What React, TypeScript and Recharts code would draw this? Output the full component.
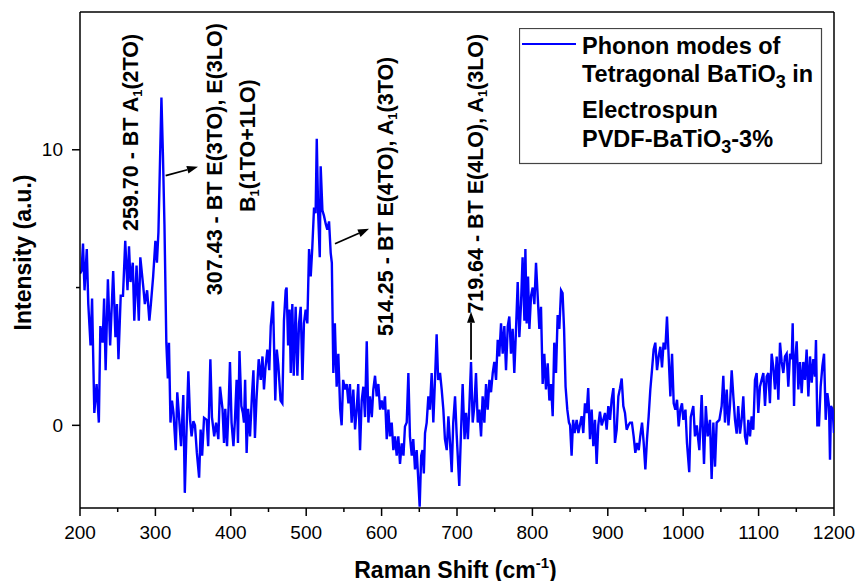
import React from 'react';
import { LineChart, Line, XAxis, YAxis, ReferenceLine, ReferenceDot, Legend } from 'recharts';

const ramanShift = [
  200, 202, 204, 206, 209, 211, 214, 216, 219, 222,
  225, 227, 230, 232, 234, 237, 240, 244, 247, 249,
  251, 254, 257, 260, 263, 265, 267, 270, 272, 275,
  278, 280, 284, 286, 289, 292, 294, 297, 300, 302,
  304, 308, 310, 312, 314.5, 316.5, 318, 320, 322, 324,
  327, 329, 331, 334, 337, 339, 341, 343.7, 346, 348,
  350.4, 352.5, 355, 358, 360, 362, 364.5, 368, 370, 372.9,
  375, 378, 380.5, 383.5, 385.7, 389, 391, 392.7, 395, 397,
  398.9, 401, 403.5, 405.5, 407.7, 409.5, 411.5, 414, 416, 417.5,
  419, 421, 423, 425.5, 428, 430, 432, 434, 437, 439.7,
  442, 444, 446, 448.5, 451, 453, 456, 459, 461, 463,
  466, 468.4, 470.5, 472.8, 474, 476, 478, 479.5, 481.6, 483.5,
  486, 488.3, 490.5, 492.7, 495, 497, 499.3, 501.5, 503.8, 506,
  508, 510.4, 512.5, 514, 516, 518, 519.2, 521.5, 523.6, 526,
  528, 530.3, 532.5, 534, 536, 538, 540.4, 542.6, 545, 547,
  549, 551.5, 553.7, 556, 558, 560.3, 562.5, 564.8, 567, 569,
  571.4, 573.6, 575.8, 578, 580.3, 582.5, 584.6, 587, 589, 591.3,
  593.5, 595.7, 598, 600, 602.3, 604.5, 606.8, 609, 611, 613.4,
  615.6, 617.8, 620, 622.2, 624.4, 626.7, 629, 631, 633.3, 635.5,
  637.6, 640, 642, 644.3, 646.5, 648.7, 650.5, 652.5, 654.3, 656,
  657.6, 659.8, 662, 664, 666.4, 668.6, 671, 673, 675, 677.5,
  679.7, 681.9, 684, 686.4, 688.6, 690.8, 693, 695, 697.4, 699.5,
  701, 703, 705, 707.5, 710, 712, 714.4, 716.4, 718.6, 720.8,
  723, 725.2, 727.5, 729.6, 731.9, 734, 736.3, 738.5, 740.7, 743,
  745.1, 747.4, 749.5, 751.8, 754, 756, 758.4, 760.6, 762.8, 765,
  767.3, 769.4, 771.6, 773.8, 776, 778.3, 780.5, 782.7, 784.9, 787,
  789.4, 790.7, 792.4, 794.2, 796, 798.2, 800.4, 802.6, 804.8, 807,
  809.2, 811.4, 813.6, 815.8, 818, 820.3, 822.5, 824.7, 826.9, 829,
  831.3, 833.5, 835.7, 838, 840, 842, 844, 846.3, 848.5, 850,
  852, 854, 856, 858.7, 861, 863, 865.3, 867.5, 869.7, 872,
  874, 876.4, 878.6, 880.8, 883, 885.2, 887.4, 889.6, 891.9, 894,
  896.3, 898.5, 900.7, 903, 905.1, 907.4, 909.5, 911.8, 914, 916.2,
  918.4, 920.6, 922.8, 925, 927.3, 929.5, 932, 934.3, 936.5, 938.7,
  941, 943, 945.4, 947.6, 949.8, 952, 954.2, 956.4, 958.6, 960.8,
  963, 965.3, 967.5, 969.7, 971.9, 974, 976.3, 978.5, 980.7, 983,
  985.2, 987.4, 989.6, 991.8, 994, 996.2, 998.4, 1000.2, 1003, 1005,
  1008, 1010, 1013.4, 1015.6, 1018, 1021.4, 1024.5, 1027.6, 1030, 1032.5,
  1035.5, 1037.7, 1040, 1042.2, 1044.4, 1048, 1051, 1053.2, 1055.4, 1057.7,
  1060, 1062, 1064.3, 1066.5, 1068.7, 1070.9, 1073, 1075.3, 1077.5, 1079.7,
  1082, 1084.2, 1086.4, 1088.6, 1090.8, 1093, 1095.2, 1097.4, 1099.6, 1101.8,
  1104, 1106.3, 1108.5, 1110.7, 1112.9, 1115, 1117.3, 1119.5, 1121.7, 1124,
  1126.2, 1128.4, 1130.6, 1132.8, 1135, 1137.2, 1139.4, 1141.7, 1143.9, 1145.2,
  1147, 1148.3, 1150.5, 1152.7, 1154.9, 1157.1, 1159.3, 1161.5, 1163.7, 1166,
  1168.2, 1170.4, 1172.6, 1174.8, 1176.1, 1177.9, 1180.1, 1182.3, 1184.6, 1186.8,
  1189, 1191.2, 1193.4, 1194.7, 1196, 1198.2, 1200,
];

const intensity = [
  5.5, 5.6, 6.6, 4.9, 6.4, 4.4, 2.9, 4.6, 0.45, 1.5,
  0.1, 3.6, 3.0, 4.6, 2.0, 5.3, 2.9, 5.6, 3.2, 4.4,
  2.4, 4.7, 4.7, 6.7, 4.9, 6.5, 5.2, 5.9, 3.8, 5.8,
  3.8, 6.1, 5.0, 4.4, 4.9, 3.8, 4.4, 5.4, 6.7, 5.9,
  7.0, 11.9, 9.8, 7.3, 3.0, 1.7, 3.0, 0.1, 0.9, 0.45,
  -0.9, 1.2, 0.45, -0.76, 1.1, -2.45, -0.46, 1.96, 0.2, -0.4,
  0.15, 0, -1.0, -1.9, -0.15, -1.1, 0.27, 0.2, -0.76, 2.4,
  0.3, -0.4, 0.1, -0.5, 1.4, 0.6, -0.64, 0.6, -0.76, 0.6,
  2.3, 0.1, -0.76, 0.2, 1.65, -0.64, 2.7, 0.7, 0.45, 0.1,
  1.65, -1.0, 0.6, -0.4, 1.05, 2.0, -0.46, 0.9, 2.4, 1.65,
  2.5, 1.3, 2.1, 2.75, 2.0, 3.6, 4.5, 0.9, 2.75, 2.2,
  0.9, 0.8, 3.8, 4.9, 5.0, 2.9, 4.2, 1.9, 4.4, 1.8,
  4.3, 1.8, 3.7, 4.3, 1.65, 3.7, 4.2, 3.7, 6.4, 5.4,
  6.4, 7.9, 7.7, 10.4, 7.6, 6.1, 9.4, 7.8, 7.6, 7.3,
  7.1, 7.4, 6.25, 5.9, 1.9, 3.7, 1.4, 2.6, 0.6, 0,
  1.65, 1.3, 1.5, 0.8, 1.5, 0.1, 1.3, -0.15, 0.6, 1.5,
  -0.9, 0.9, 1.4, 0.3, 3.05, 0.1, 1.05, 0.3, 1.3, 1.8,
  1.05, 1.5, 0.57, 0.9, 0.57, 1.05, -0.5, 0.57, -0.4, 0.1,
  -0.9, -0.4, -1.1, -0.4, -1.4, -0.65, -1.1, -0.04, 0.1, 1.9,
  -0.4, -1.1, -0.5, -1.6, -0.9, -2.0, -2.95, -1.1, -0.9, -1.75,
  -0.28, 0.1, 1.05, 0.57, 1.9, 0.1, 1.8, 3.3, 1.65, 1.9,
  1.3, 0.57, -0.5, -0.9, 0.33, -0.65, -1.7, 0.1, 1.05, -0.3,
  -1.1, -2.2, -0.5, 1.5, -0.5, 0.45, -0.5, 0.7, 2.3, 0.1,
  0.7, 1.9, 0.1, 0.57, -0.4, 1.05, 0.1, 1.5, 0.57, 1.65,
  1.2, 1.9, 2.3, 1.65, 3.1, 2.5, 3.7, 2.6, 3.6, 2.0,
  3.6, 3.95, 2.6, 3.5, 1.9, 3.5, 5.2, 3.2, 4.4, 6.1,
  3.8, 6.4, 3.7, 5.4, 3.5, 4.7, 5.0, 4.4, 5.9, 4.7,
  3.5, 4.3, 1.5, 2.6, 1.3, 2.25, 0.9, 1.5, 0.33, 3.0,
  1.9, 4.0, 3.5, 4.9, 4.8, 3.5, 1.4, 0.57, 0.1, 0.0,
  -1.1, 0.2, -0.28, 0.2, -0.28, 0.0, 0.33, -0.28, 0.8, 0.45,
  1.35, -0.5, 0.57, -0.76, 0.2, -1.4, 0.0, 0.5, 0.0, 0.2,
  0.45, -0.16, 0.7, 0.2, 0.93, 1.35, -0.64, -0.16, 1.05, 1.35,
  1.7, 0.7, 0.45, -0.16, 0.0, 0.1, 0.1, -0.4, -1.0, -0.64,
  -0.9, -0.4, 0.1, -0.64, -1.6, -0.5, 0.33, 1.3, 2.0, 2.75,
  3.0, 2.0, 2.5, 2.85, 2.1, 3.0, 2.75, 3.95, 2.5, 1.05,
  2.6, 0.8, 0.57, 0.93, -0.04, 0.57, 0.8, 0.2, 0.57, -0.64,
  -1.7, 0.3, 0.7, -0.4, 0.0, -0.9, 1.1, -1.4, 0.7, -0.4,
  0.2, -1.95, 0.1, -1.5, 0.1, 0.2, 0.7, 1.8, 0.1, 1.3,
  0.0, 0.7, 2.0, 1.05, 0.2, -0.3, 0.7, -0.3, 0.2, 1.05,
  -0.4, -0.7, 0.2, -0.4, 0.33, -0.16, 1.65, 1.9, 0.45, 1.4,
  1.65, 1.9, 0.7, 1.77, 1.9, 0.8, 2.6, 2.1, 1.3, 2.5,
  0.93, 3.0, 2.3, 1.9, 2.5, 2.6, 1.4, 2.6, 2.4, 3.7,
  0.7, 2.3, 3.05, 1.3, 2.3, 1.17, 2.3, 1.65, 2.75, 1.05,
  2.5, 1.55, 2.4, 1.77, 3.1, 0, 0, 1.4, 2.15, 2.6,
  0.2, 1.17, 0.7, -1.25, 0.7, 0.57, -0.28,
];

const xTicks = [200, 250, 300, 350, 400, 450, 500, 550, 600, 650, 700, 750, 800, 850, 900, 950, 1000, 1050, 1100, 1150, 1200];
const yTicks = [0, 5, 10];

const seriesName = 'Phonon modes of Tetragonal BaTiO3 in Electrospun PVDF-BaTiO3-3%';

// annotation labels: anchor in data coordinates, text parts (sub = subscript)
const annotations = [
  { x: 276.9, y: 10.63, parts: [{ t: '259.70 - BT A' }, { t: '1', sub: true }, { t: '(2TO)' }] },
  { x: 388.3, y: 9.66, parts: [{ t: '307.43 - BT E(3TO), E(3LO)' }] },
  { x: 432.1, y: 10.15, parts: [{ t: 'B' }, { t: '1', sub: true }, { t: '(1TO+1LO)' }] },
  { x: 615.1, y: 8.31, parts: [{ t: '514.25 - BT E(4TO), A' }, { t: '1', sub: true }, { t: '(3TO)' }] },
  { x: 734.5, y: 9.13, parts: [{ t: '719.64 - BT E(4LO), A' }, { t: '1', sub: true }, { t: '(3LO)' }] },
];

const arrows = [
  { from: { x: 313.6, y: 9.06 }, to: { x: 356.5, y: 9.38 } },
  { from: { x: 538.2, y: 6.59 }, to: { x: 583.3, y: 7.13 } },
  { from: { x: 718.6, y: 2.38 }, to: { x: 718.6, y: 4.12 } },
];

const data = ramanShift.slice(0, Math.min(ramanShift.length, intensity.length)).map((x, i) => ({ x, y: intensity[i] }));

const FONT = 'Arial, "Liberation Sans", Helvetica, sans-serif';

const XTick = (props: any) => {
  const { x, y, payload } = props;
  const v = payload.value;
  const major = v % 100 === 0;
  return (
    <g>
      <line x1={x} x2={x} y1={y} y2={y + (major ? 8 : 4)} stroke="#000" strokeWidth={1.5} />
      {major && (
        <text x={x} y={y + 31} textAnchor="middle" fontSize={19} fontFamily={FONT} fill="#000">
          {v}
        </text>
      )}
    </g>
  );
};

const YTick = (props: any) => {
  const { x, y, payload } = props;
  const v = payload.value;
  const major = v % 10 === 0;
  return (
    <g>
      <line x1={x} x2={x - (major ? 8 : 4)} y1={y} y2={y} stroke="#000" strokeWidth={1.5} />
      {major && (
        <text x={x - 17} y={y} dy="0.35em" textAnchor="end" fontSize={19} fontFamily={FONT} fill="#000">
          {v}
        </text>
      )}
    </g>
  );
};

const RotLabel = ({ viewBox, parts }: any) => {
  const cx = viewBox.x + (viewBox.width || 0) / 2;
  const cy = viewBox.y + (viewBox.height || 0) / 2;
  return (
    <text
      x={cx}
      y={cy}
      transform={`rotate(-90, ${cx}, ${cy})`}
      textAnchor="middle"
      fontSize={21.5}
      fontWeight="bold"
      fontFamily={FONT}
      fill="#000"
    >
      {parts.map((p: any, i: number) =>
        p.sub ? (
          <tspan key={i} fontSize={13} dy={4}>{p.t}</tspan>
        ) : (
          <tspan key={i} dy={i > 0 && parts[i - 1].sub ? -4 : 0}>{p.t}</tspan>
        )
      )}
    </text>
  );
};

const ArrowShape = (props: any) => {
  const { x1, y1, x2, y2 } = props;
  const ang = Math.atan2(y2 - y1, x2 - x1);
  const L = 11;
  const W = 4;
  const c = Math.cos(ang);
  const s = Math.sin(ang);
  const bx = x2 - L * c;
  const by = y2 - L * s;
  const pts = `${x2},${y2} ${bx - W * s},${by + W * c} ${bx + W * s},${by - W * c}`;
  return (
    <g>
      <line x1={x1} y1={y1} x2={bx} y2={by} stroke="#000" strokeWidth={1.8} />
      <polygon points={pts} fill="#000" />
    </g>
  );
};

const LegendBox = () => (
  <svg width={304} height={137} style={{ display: 'block' }}>
    <rect x={0.5} y={0.5} width={302} height={135} fill="#fff" stroke="#444" strokeWidth={1.2} />
    <line x1={3} x2={57} y1={16} y2={16} stroke="#0000ff" strokeWidth={2} />
    <g fontFamily={FONT} fontWeight="bold" fontSize={23.5} fill="#000">
      <text x={63} y={26}>Phonon modes of</text>
      <text x={63} y={53.5}>
        Tetragonal BaTiO<tspan fontSize={18} dy={6}>3</tspan>
        <tspan dy={-6}> in</tspan>
      </text>
      <text x={63} y={90}>Electrospun</text>
      <text x={63} y={118.5}>
        PVDF-BaTiO<tspan fontSize={18} dy={6}>3</tspan>
        <tspan dy={-6}>-3%</tspan>
      </text>
    </g>
  </svg>
);

const XTitle = (props: any) => {
  const vb = props.viewBox;
  const cx = vb.x + vb.width / 2 - 1.5;
  const by = vb.y + vb.height - 3.5;
  return (
    <text x={cx} y={by} textAnchor="middle" fontSize={23} fontWeight="bold" fontFamily={FONT} fill="#000">
      Raman Shift (cm<tspan fontSize={15} dy={-10}>-1</tspan>
      <tspan dy={10}>)</tspan>
    </text>
  );
};

const YTitle = (props: any) => {
  const vb = props.viewBox;
  const x = vb.x + 31;
  const y = vb.y + vb.height / 2 - 7.5;
  return (
    <text
      x={x}
      y={y}
      transform={`rotate(-90, ${x}, ${y})`}
      textAnchor="middle"
      fontSize={23}
      fontWeight="bold"
      fontFamily={FONT}
      fill="#000"
    >
      Intensity (a.u.)
    </text>
  );
};

export default function App() {
  return (
    <div style={{ position: 'absolute', left: 0, top: 0, width: 856, height: 581, background: '#fff' }}>
      <LineChart width={856} height={581} data={data} margin={{ top: 12, right: 22, bottom: 0, left: 0 }}>
        <XAxis
          dataKey="x"
          type="number"
          domain={[200, 1200]}
          ticks={xTicks}
          interval={0}
          allowDataOverflow
          height={73}
          tickLine={false}
          tickSize={0}
          tickMargin={0}
          tick={<XTick />}
          axisLine={{ stroke: '#000', strokeWidth: 1.5 }}
          label={(p: any) => <XTitle {...p} />}
        />
        <YAxis
          dataKey="y"
          type="number"
          domain={[-3, 15]}
          ticks={yTicks}
          interval={0}
          allowDataOverflow
          width={80}
          tickLine={false}
          tickSize={0}
          tickMargin={0}
          tick={<YTick />}
          axisLine={{ stroke: '#000', strokeWidth: 1.5 }}
          label={(p: any) => <YTitle {...p} />}
        />
        <ReferenceLine y={15} stroke="#000" strokeWidth={1.5} ifOverflow="visible" />
        <ReferenceLine x={1200} stroke="#000" strokeWidth={1.5} ifOverflow="visible" />
        <Line
          type="linear"
          dataKey="y"
          name={seriesName}
          stroke="#0000ff"
          strokeWidth={2.4}
          dot={false}
          activeDot={false}
          isAnimationActive={false}
        />
        {arrows.map((a, i) => (
          <ReferenceLine
            key={`arrow-${i}`}
            segment={[a.from, a.to]}
            ifOverflow="visible"
            shape={(p: any) => <ArrowShape {...p} />}
          />
        ))}
        {annotations.map((a, i) => (
          <ReferenceDot
            key={`ann-${i}`}
            x={a.x}
            y={a.y}
            r={0}
            fill="none"
            stroke="none"
            ifOverflow="visible"
            label={(p: any) => <RotLabel viewBox={p.viewBox} parts={a.parts} />}
          />
        ))}
        <Legend
          layout="horizontal"
          verticalAlign="middle"
          align="center"
          wrapperStyle={{ left: 519, top: 28, width: 304, height: 137 }}
          content={() => <LegendBox />}
        />
      </LineChart>
    </div>
  );
}
